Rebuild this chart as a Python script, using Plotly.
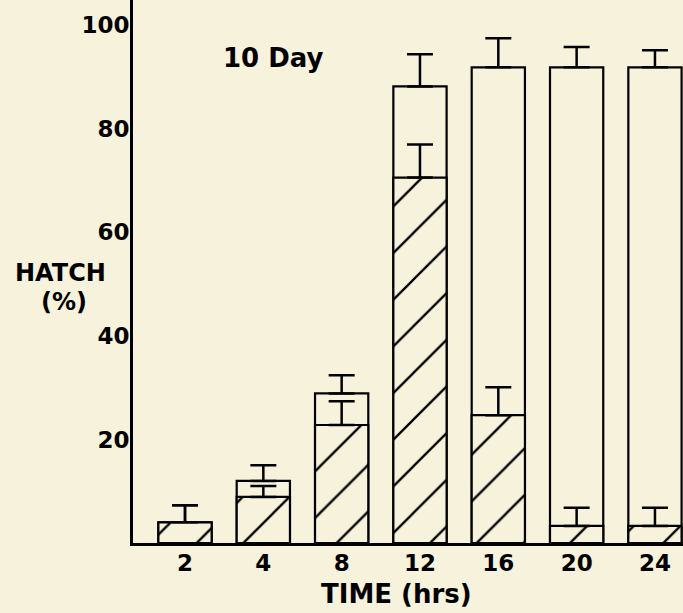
import plotly.graph_objects as go

times = ["2", "4", "8", "12", "16", "20", "24"]
total_hatch = [4.0, 12.0, 28.9, 88.2, 91.9, 91.9, 91.9]
total_err = [3.3, 3.0, 3.5, 6.2, 5.6, 3.9, 3.3]
early_hatch = [4.0, 8.9, 22.8, 70.6, 24.7, 3.3, 3.3]
early_err = [3.3, 2.1, 4.6, 6.4, 5.4, 3.5, 3.5]

BG = "#f7f2dc"
FONT = "DejaVu Sans, Liberation Sans, Arial, sans-serif"
xpos = list(range(len(times)))

fig = go.Figure()
fig.add_trace(go.Bar(
    x=xpos, y=total_hatch, width=0.68,
    marker=dict(color=BG, line=dict(color="black", width=2.2)),
    error_y=dict(type="data", symmetric=False, array=total_err,
                 arrayminus=[0] * len(times), color="black",
                 thickness=2.5, width=13),
    showlegend=False,
))
fig.add_trace(go.Bar(
    x=xpos, y=early_hatch, width=0.68,
    marker=dict(color=BG, line=dict(color="black", width=2.2),
                pattern=dict(shape="/", size=33, solidity=0.07,
                             fgcolor="black", bgcolor=BG, fgopacity=1)),
    error_y=dict(type="data", symmetric=False, array=early_err,
                 arrayminus=[0] * len(times), color="black",
                 thickness=2.5, width=13),
    showlegend=False,
))


def ann(text, px, py, size):
    return dict(text=text, x=(px - 133) / 550, y=1 - py / 543,
                xref="paper", yref="paper", showarrow=False,
                xanchor="center", yanchor="middle",
                font=dict(size=size, weight="bold", family=FONT))


fig.update_layout(
    width=683, height=613,
    margin=dict(l=133, r=0, t=0, b=70),
    paper_bgcolor=BG, plot_bgcolor=BG,
    barmode="overlay",
    font=dict(family=FONT, color="black"),
    xaxis=dict(
        range=[-0.664, 6.358], tickvals=xpos, ticktext=times,
        showline=True, linecolor="black", linewidth=3,
        showgrid=False, zeroline=False, ticks="", automargin=False,
        tickfont=dict(size=23, weight="bold", family=FONT),
        ticklabelstandoff=-3,
    ),
    yaxis=dict(
        range=[0, 104.9], tickvals=[20, 40, 60, 80, 100],
        showline=True, linecolor="black", linewidth=3,
        showgrid=False, zeroline=False, ticks="", automargin=False,
        tickfont=dict(size=23, weight="bold", family=FONT),
        ticklabelstandoff=-4,
    ),
    annotations=[
        ann("10 Day", 273, 58, 26),
        ann("HATCH", 60, 273, 24),
        ann("(%)", 64, 302, 24),
        ann("TIME (hrs)", 396, 594, 26),
    ],
)

fig.write_html(
    "out.html",
    config={"displayModeBar": False},
    post_script="document.body.style.margin='0';document.body.style.padding='0';"
                "document.documentElement.style.background='" + BG + "';"
                "document.body.style.overflow='hidden';",
)
